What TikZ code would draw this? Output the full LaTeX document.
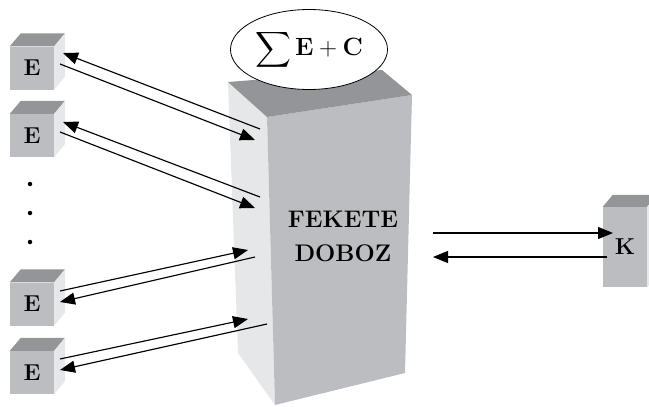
\RequirePackage{fix-cm}
\documentclass[tikz,border=0pt]{standalone}
\usepackage{exscale}
\usetikzlibrary{arrows.meta,shapes.geometric}
\definecolor{frontgray}{HTML}{BCBDC0}
\definecolor{topgray}{HTML}{939598}
\definecolor{sidegray}{HTML}{E6E7E8}
\begin{document}
\begin{tikzpicture}[x=1pt,y=-1pt,
  cube/.style={fill=frontgray,minimum width=44pt,minimum height=43pt,inner sep=0pt,
    font=\fontsize{23}{26}\selectfont\bfseries},
  conn/.style={line width=1.15pt,-{Triangle[length=15pt,width=12pt]}},
  dot/.style={circle,fill=black,inner sep=0pt,minimum size=4.5pt}]
\useasboundingbox (0,0) rectangle (649,407);
\clip (0,0) rectangle (649,407);
% big box
\fill[sidegray] (228,82) -- (267,117) -- (275,405) -- (238,353) -- cycle;
\fill[frontgray] (267,117) -- (412,95) -- (405,373) -- (275,405) -- cycle;
\fill[topgray] (228,82) -- (382,70) -- (412,95) -- (267,117) -- cycle;
\node[font=\fontsize{24}{34}\selectfont\bfseries,align=center] (bb) at (343,236) {FEKETE\\DOBOZ};
\node[ellipse,draw,fill=white,line width=0.8pt,minimum width=157pt,minimum height=80pt,inner sep=0pt]
  (sum) at (309,49.5) {\fontsize{25}{30}\selectfont$\displaystyle\sum\mathbf{E}+\mathbf{C}$};
% small cubes
\foreach \n/\y in {e1/68,e2/135.5,e3/304,e4/372.5}{
  \node[cube] (\n) at (32,\y) {E};
  \fill[topgray] (\n.north west) -- ++(11,-13) -- ++(44,0) -- (\n.north east) -- cycle;
  \fill[sidegray] (\n.north east) -- ++(11,-13) -- ++(0,43) -- (\n.south east) -- cycle;
}
% K cube
\node[cube,minimum height=80pt] (k) at (625,247) {K};
\fill[topgray] (k.north west) -- ++(10,-12) -- ++(44,0) -- (k.north east) -- cycle;
\fill[sidegray] (k.north east) -- ++(10,-12) -- ++(0,80) -- (k.south east) -- cycle;
% dots
\node[dot] (d1) at (30,184) {};
\node[dot] (d2) at (30,213) {};
\node[dot] (d3) at (30,242) {};
% connector end points
\coordinate (p1a) at (260,129); \coordinate (q1a) at (63,53);
\coordinate (p1b) at (60,64);   \coordinate (q1b) at (255,140);
\coordinate (p2a) at (260,197); \coordinate (q2a) at (63,122);
\coordinate (p2b) at (60,132);  \coordinate (q2b) at (255,208);
\coordinate (p3a) at (60,291);  \coordinate (q3a) at (248,250);
\coordinate (p3b) at (255,257); \coordinate (q3b) at (60,302);
\coordinate (p4a) at (60,359);  \coordinate (q4a) at (248,319);
\coordinate (p4b) at (267,324); \coordinate (q4b) at (60,370);
\coordinate (pka) at (433,233); \coordinate (qka) at (613,233);
\coordinate (pkb) at (607,257); \coordinate (qkb) at (433,257);
\foreach \i in {1a,1b,2a,2b,3a,3b,4a,4b,ka,kb}{
  \draw[conn] (p\i) -- (q\i);
}
\end{tikzpicture}
\end{document}
